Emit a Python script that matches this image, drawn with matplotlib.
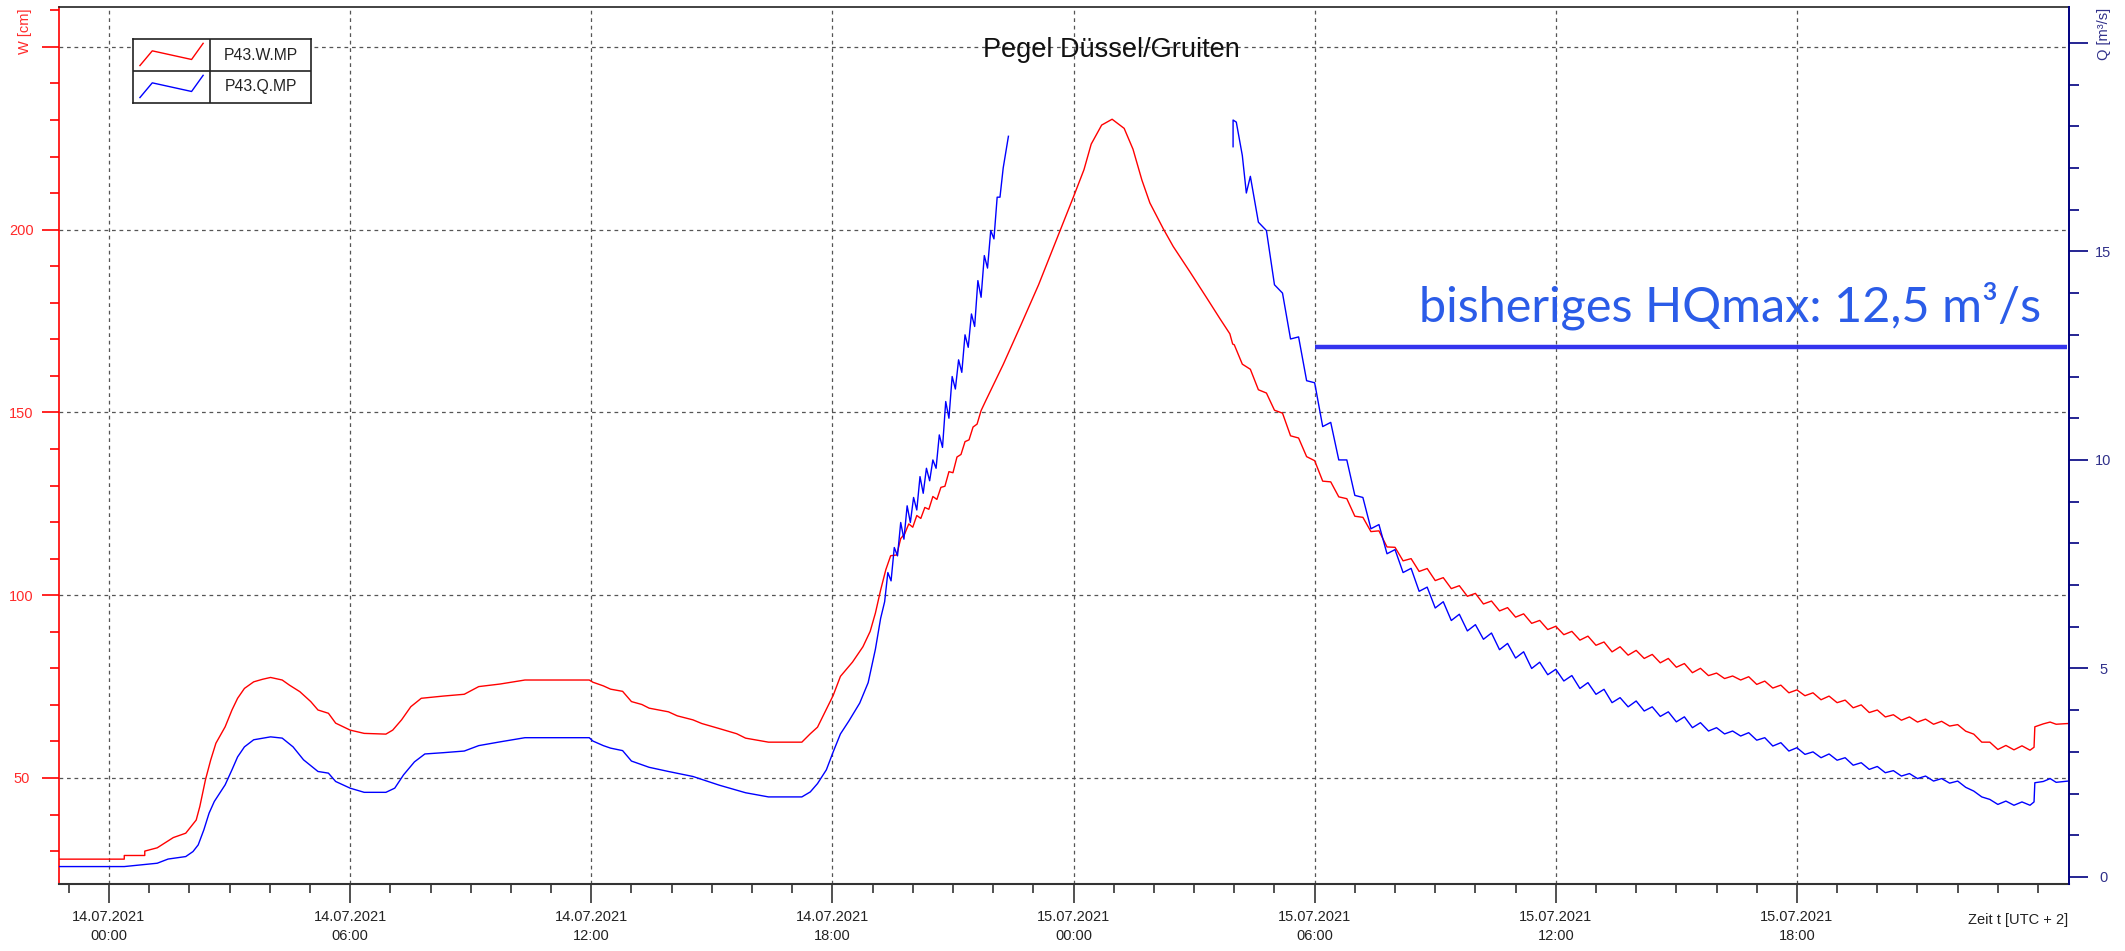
import numpy as np
import matplotlib.pyplot as plt

plt.rcParams['font.family'] = ['Liberation Sans', 'DejaVu Sans']

# Pegel Düssel/Gruiten, hours since 14.07.2021 00:00 (UTC+2)
# W [cm], (hour, value)
w_points = [
    (-1.24, 27.8), (0.38, 27.8), (0.38, 28.8), (0.89, 28.8), (0.89, 30.0), (1.2, 30.9),
    (1.47, 32.8), (1.6, 33.7), (1.91, 34.9), (2.04, 36.7), (2.17, 38.5), (2.26, 42.2),
    (2.4, 49.5), (2.53, 54.9), (2.66, 59.5), (2.89, 64.0), (3.06, 68.6), (3.2, 71.8),
    (3.37, 74.5), (3.6, 76.3), (3.82, 77.0), (4.02, 77.5), (4.31, 76.8), (4.49, 75.4),
    (4.75, 73.6), (5.02, 70.9), (5.2, 68.6), (5.46, 67.7), (5.64, 65.0), (6.0, 63.1),
    (6.35, 62.2), (6.89, 62.0), (7.06, 63.1), (7.28, 65.9), (7.51, 69.5), (7.77, 71.8),
    (8.31, 72.4), (8.84, 72.9), (9.2, 75.0), (9.73, 75.7), (10.35, 76.8), (11.95, 76.8),
    (12.04, 76.2), (12.3, 75.2), (12.48, 74.3), (12.78, 73.7), (13.0, 70.9), (13.26, 70.1),
    (13.44, 69.1), (13.92, 68.1), (14.14, 67.0), (14.53, 65.9), (14.75, 64.9), (15.19, 63.5),
    (15.62, 62.1), (15.84, 60.9), (16.41, 59.8), (17.24, 59.8), (17.45, 62.1), (17.63, 63.9),
    (17.8, 67.7), (18.02, 72.6), (18.2, 77.8), (18.5, 81.7), (18.76, 85.9), (18.94, 90.1),
    (19.07, 95.1), (19.2, 101.4), (19.33, 107.0), (19.45, 110.8), (19.6, 111.0), (19.7, 115.5),
    (19.8, 116.8), (19.9, 119.5), (20.0, 118.6), (20.1, 121.8), (20.2, 121.0), (20.3, 124.0),
    (20.4, 123.5), (20.5, 127.0), (20.6, 126.2), (20.7, 129.5), (20.8, 129.8), (20.9, 133.8),
    (21.0, 133.5), (21.1, 137.8), (21.2, 138.5), (21.3, 142.0), (21.4, 142.5), (21.5, 146.0),
    (21.6, 146.8), (21.7, 150.5), (21.82, 153.3), (22.25, 163.1), (22.69, 173.9), (23.13, 184.9),
    (23.56, 196.8), (24.0, 209.0), (24.26, 216.4), (24.44, 223.4), (24.7, 228.6), (24.96, 230.2),
    (25.26, 227.7), (25.48, 222.0), (25.7, 213.6), (25.9, 207.3), (26.23, 200.3), (26.48, 195.4),
    (26.9, 188.4), (27.31, 181.4), (27.64, 175.7), (27.89, 171.5), (27.96, 168.7),
    (28.0, 168.5), (28.2, 163.2), (28.4, 161.8), (28.6, 156.2), (28.8, 155.3), (29.0, 150.6),
    (29.2, 149.8), (29.4, 143.6), (29.6, 143.0), (29.8, 137.9), (30.0, 136.8), (30.2, 131.2),
    (30.4, 131.0), (30.6, 126.9), (30.8, 126.4), (31.0, 121.6), (31.2, 121.3), (31.4, 117.4),
    (31.6, 117.6), (31.8, 113.2), (32.0, 113.1), (32.2, 109.4), (32.4, 110.0), (32.6, 106.5),
    (32.8, 107.3), (33.0, 104.0), (33.2, 104.8), (33.4, 101.8), (33.6, 102.6), (33.8, 99.7),
    (34.0, 100.5), (34.2, 97.6), (34.4, 98.4), (34.6, 95.7), (34.8, 96.6), (35.0, 94.0),
    (35.2, 94.9), (35.4, 92.3), (35.6, 93.1), (35.8, 90.6), (36.0, 91.5), (36.2, 89.2),
    (36.4, 90.1), (36.6, 87.7), (36.8, 88.8), (37.0, 86.3), (37.2, 87.2), (37.4, 84.5),
    (37.6, 85.9), (37.8, 83.6), (38.0, 84.9), (38.2, 82.7), (38.4, 83.8), (38.6, 81.5),
    (38.8, 82.7), (39.0, 80.3), (39.2, 81.3), (39.4, 78.8), (39.6, 80.0), (39.8, 78.0),
    (40.0, 78.7), (40.2, 77.2), (40.4, 77.9), (40.6, 76.8), (40.8, 77.7), (41.0, 75.6),
    (41.2, 76.5), (41.4, 74.6), (41.6, 75.4), (41.8, 73.3), (42.0, 74.1), (42.2, 72.5),
    (42.4, 73.3), (42.6, 71.4), (42.8, 72.4), (43.0, 70.6), (43.2, 71.3), (43.4, 69.2),
    (43.6, 70.0), (43.8, 67.9), (44.0, 68.6), (44.2, 66.7), (44.4, 67.3), (44.6, 65.8),
    (44.8, 66.7), (45.0, 65.3), (45.2, 66.1), (45.4, 64.7), (45.6, 65.5), (45.8, 64.2),
    (46.0, 64.6), (46.2, 62.8), (46.4, 62.0), (46.6, 59.8), (46.8, 59.8), (47.0, 57.8),
    (47.2, 58.9), (47.4, 57.7), (47.6, 58.8), (47.8, 57.6), (47.9, 58.4), (47.92, 64.0),
    (48.13, 64.8), (48.3, 65.3), (48.45, 64.7), (48.75, 64.9),
]

# Q [m³/s], NaN = no value recorded (gap around the peak)
q_points = [
    (-1.24, 0.25), (0.38, 0.25), (0.89, 0.30), (1.2, 0.33), (1.47, 0.43), (1.91, 0.49),
    (2.09, 0.61), (2.22, 0.77), (2.36, 1.13), (2.49, 1.53), (2.62, 1.81), (2.89, 2.21),
    (3.06, 2.57), (3.2, 2.88), (3.37, 3.12), (3.6, 3.29), (4.02, 3.36), (4.31, 3.33),
    (4.58, 3.12), (4.84, 2.81), (5.2, 2.53), (5.46, 2.49), (5.64, 2.29), (6.0, 2.13),
    (6.35, 2.03), (6.89, 2.03), (7.11, 2.13), (7.33, 2.45), (7.6, 2.76), (7.86, 2.95),
    (8.31, 2.98), (8.84, 3.02), (9.2, 3.15), (9.73, 3.24), (10.35, 3.34), (11.95, 3.34),
    (12.04, 3.26), (12.3, 3.15), (12.48, 3.09), (12.78, 3.03), (13.0, 2.78), (13.44, 2.63),
    (13.92, 2.53), (14.53, 2.41), (15.19, 2.20), (15.62, 2.08), (15.84, 2.02), (16.41, 1.92),
    (17.24, 1.92), (17.45, 2.04), (17.63, 2.24), (17.85, 2.57), (18.02, 3.0), (18.2, 3.43),
    (18.41, 3.74), (18.68, 4.17), (18.89, 4.66), (19.07, 5.46), (19.2, 6.2), (19.3, 6.6),
    (19.38, 7.3), (19.46, 7.1), (19.54, 7.9), (19.62, 7.7), (19.7, 8.5), (19.78, 8.1),
    (19.86, 8.9), (19.94, 8.5), (20.02, 9.1), (20.1, 8.8), (20.18, 9.6), (20.26, 9.2),
    (20.34, 9.8), (20.42, 9.5), (20.5, 10.0), (20.58, 9.8), (20.66, 10.6), (20.74, 10.3),
    (20.82, 11.4), (20.9, 11.0), (20.98, 12.0), (21.06, 11.7), (21.14, 12.4), (21.22, 12.1),
    (21.3, 13.0), (21.38, 12.7), (21.46, 13.5), (21.54, 13.2), (21.62, 14.3), (21.7, 13.9),
    (21.78, 14.9), (21.86, 14.6), (21.94, 15.5), (22.02, 15.3), (22.1, 16.3), (22.17, 16.3),
    (22.25, 17.0), (22.38, 17.76),
    (25.0, np.nan),
    (27.97, 17.51), (27.97, 18.15), (28.05, 18.1), (28.2, 17.3), (28.3, 16.4), (28.4, 16.8),
    (28.6, 15.7), (28.8, 15.5), (29.0, 14.2), (29.2, 14.0), (29.4, 12.9), (29.6, 12.95),
    (29.8, 11.9), (30.0, 11.85), (30.2, 10.8), (30.4, 10.9), (30.6, 10.0), (30.8, 10.0),
    (31.0, 9.15), (31.2, 9.1), (31.4, 8.35), (31.6, 8.45), (31.8, 7.75), (32.0, 7.85),
    (32.2, 7.3), (32.4, 7.4), (32.6, 6.85), (32.8, 6.95), (33.0, 6.45), (33.2, 6.6),
    (33.4, 6.15), (33.6, 6.3), (33.8, 5.9), (34.0, 6.05), (34.2, 5.7), (34.4, 5.85),
    (34.6, 5.45), (34.8, 5.6), (35.0, 5.25), (35.2, 5.4), (35.4, 5.0), (35.6, 5.15),
    (35.8, 4.85), (36.0, 4.98), (36.2, 4.7), (36.4, 4.83), (36.6, 4.52), (36.8, 4.66),
    (37.0, 4.38), (37.2, 4.5), (37.4, 4.18), (37.6, 4.3), (37.8, 4.08), (38.0, 4.22),
    (38.2, 3.98), (38.4, 4.08), (38.6, 3.85), (38.8, 3.96), (39.0, 3.72), (39.2, 3.84),
    (39.4, 3.58), (39.6, 3.7), (39.8, 3.5), (40.0, 3.58), (40.2, 3.43), (40.4, 3.5),
    (40.6, 3.38), (40.8, 3.46), (41.0, 3.28), (41.2, 3.34), (41.4, 3.14), (41.6, 3.22),
    (41.8, 3.02), (42.0, 3.1), (42.2, 2.94), (42.4, 3.0), (42.6, 2.86), (42.8, 2.95),
    (43.0, 2.8), (43.2, 2.86), (43.4, 2.68), (43.6, 2.74), (43.8, 2.58), (44.0, 2.65),
    (44.2, 2.5), (44.4, 2.55), (44.6, 2.42), (44.8, 2.48), (45.0, 2.36), (45.2, 2.42),
    (45.4, 2.3), (45.6, 2.36), (45.8, 2.25), (46.0, 2.3), (46.2, 2.15), (46.4, 2.06),
    (46.6, 1.92), (46.8, 1.86), (47.0, 1.74), (47.2, 1.82), (47.4, 1.72), (47.6, 1.8),
    (47.8, 1.72), (47.9, 1.8), (47.92, 2.26), (48.13, 2.29), (48.3, 2.36), (48.45, 2.27),
    (48.75, 2.30),
]

x_major_hours = [0, 6, 12, 18, 24, 30, 36, 42]
x_tick_labels = ['14.07.2021\n00:00', '14.07.2021\n06:00', '14.07.2021\n12:00', '14.07.2021\n18:00',
                 '15.07.2021\n00:00', '15.07.2021\n06:00', '15.07.2021\n12:00', '15.07.2021\n18:00']
w_major = [50, 100, 150, 200, 250]
w_labels = ['50', '100', '150', '200', '']
q_major = [0, 5, 10, 15, 20]
q_labels = ['0', '5', '10', '15', '']

# previous max discharge marker (drawn by hand in the original)
hq_level = 12.7
hq_start, hq_end = 30.0, 48.72
hq_text = 'bisheriges HQmax: 12,5 m³/s'

RED = '#ff0000'
BLUE = '#0000ff'
NAVY = '#000080'

w_h, w_v = np.array(w_points).T
q_h, q_v = np.array(q_points).T

fig = plt.figure(figsize=(21.25, 9.51), dpi=100)
ax = fig.add_axes([59 / 2125, 1 - 884 / 951, 2010 / 2125, 877 / 951])
ax2 = ax.twinx()

ax.plot(w_h, w_v, color=RED, lw=1.0)
ax2.plot(q_h, q_v, color=BLUE, lw=1.0)

ax.set_xlim(-1.244, 48.77)
ax.set_ylim(21.0, 260.9)
ax2.set_ylim(-0.168, 20.86)

# x axis
ax.set_xticks(x_major_hours)
ax.set_xticklabels(x_tick_labels, fontsize=10.5, color='#222222', linespacing=1.45)
ax.set_xticks(np.arange(-1, 49, 1), minor=True)
ax.tick_params(axis='x', which='major', length=13.7, width=1.2, color='#333333', pad=5)
ax.tick_params(axis='x', which='minor', length=6.5, width=1.2, color='#333333')

# left axis (W)
ax.set_yticks(w_major)
ax.set_yticklabels(w_labels, fontsize=10.5, color='#ff2a2a', ha='center')
ax.set_yticks(np.arange(30, 261, 10), minor=True)
ax.tick_params(axis='y', which='major', length=12.3, width=1.2, color=RED, pad=14.8)
ax.tick_params(axis='y', which='minor', length=6.3, width=1.2, color=RED)

# right axis (Q)
ax2.set_yticks(q_major)
ax2.set_yticklabels(q_labels, fontsize=10.5, color='#30308a', ha='center')
ax2.set_yticks(np.arange(0, 21, 1), minor=True)
ax2.tick_params(axis='y', which='major', length=13.7, width=1.2, color=NAVY, pad=10.8)
ax2.tick_params(axis='y', which='minor', length=7.0, width=1.2, color=NAVY)

ax.grid(True, which='major', color='#555555', linestyle=(0, (3, 3)), lw=0.9)

for side in ['top', 'right', 'left', 'bottom']:
    ax2.spines[side].set_visible(False)
ax2.spines['right'].set_visible(True)
ax2.spines['right'].set_color(NAVY)
ax2.spines['right'].set_linewidth(1.4)
ax.spines['right'].set_visible(False)
ax.spines['left'].set_color(RED)
ax.spines['left'].set_linewidth(1.2)
ax.spines['top'].set_color('#222222')
ax.spines['top'].set_linewidth(1.2)
ax.spines['bottom'].set_color('#333333')
ax.spines['bottom'].set_linewidth(1.5)

# axis titles
fig.text(25 / 2125, 1 - 31 / 951, 'W [cm]', rotation=90, ha='center', va='center',
         fontsize=10.5, color='#ff2a2a')
fig.text(2104 / 2125, 1 - 34 / 951, 'Q [m³/s]', rotation=90, ha='center', va='center',
         fontsize=10.5, color='#30308a')
fig.text(2068 / 2125, 1 - 920 / 951, 'Zeit t [UTC + 2]', ha='right', va='center',
         fontsize=10.5, color='#222222')

ax.text(0.5234, 0.951, 'Pegel Düssel/Gruiten', transform=ax.transAxes,
        ha='center', va='center', fontsize=19.5, color='#111111')

# HQmax annotation
ax2.hlines(hq_level, hq_start, hq_end, color='#3434ee', lw=3.2)
ax2.text(32.6, 13.33, hq_text, fontsize=35, family=['Lato', 'DejaVu Sans'],
         color='#2b5ce8', ha='left', va='baseline')

# legend drawn as a small table like the original
lax = fig.add_axes([133 / 2125, 1 - 103 / 951, 178 / 2125, 64 / 951])
lax.set_xlim(0, 1)
lax.set_ylim(0, 2)
lax.set_xticks([])
lax.set_yticks([])
for s in lax.spines.values():
    s.set_color('#222222')
    s.set_linewidth(1.2)
lax.axvline(0.433, color='#222222', lw=1.2)
lax.axhline(1.0, color='#222222', lw=1.2)
gx = 0.433 * np.array([0.09, 0.25, 0.76, 0.91])
gy = np.array([0.17, 0.63, 0.36, 0.865])
lax.plot(gx, gy + 1, color=RED, lw=1.0)
lax.plot(gx, gy, color=BLUE, lw=1.0)
lax.text(0.7165, 1.5, 'P43.W.MP', ha='center', va='center', fontsize=11.3, color='#222222')
lax.text(0.7165, 0.5, 'P43.Q.MP', ha='center', va='center', fontsize=11.3, color='#222222')

fig.savefig('out.png', dpi=100)
